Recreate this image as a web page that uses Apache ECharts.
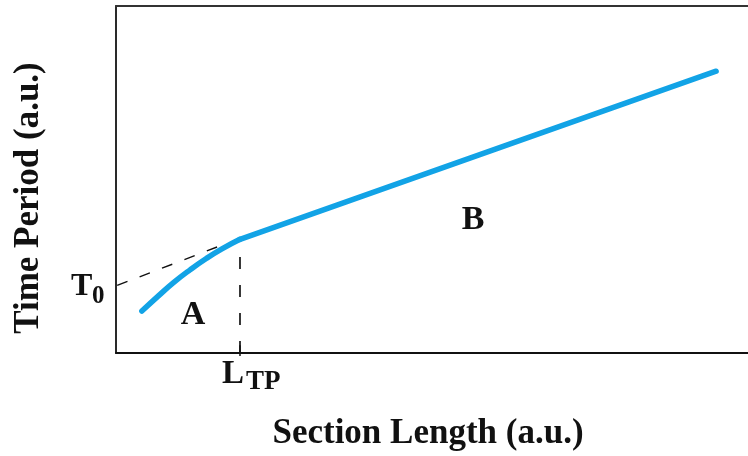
<!DOCTYPE html>
<html>
<head>
<meta charset="utf-8">
<script src="https://cdn.jsdelivr.net/npm/echarts@6/dist/echarts.min.js"></script>
<style>
  html, body { margin: 0; padding: 0; background: #fff; }
  #chart { width: 748px; height: 456px; }
</style>
</head>
<body>
<div id="chart"></div>
<script>
// Section A: curved rise up to the turning point
const regionA = [
  [0.43, 0.70], [0.70, 0.95], [0.96, 1.18], [1.23, 1.39],
  [1.50, 1.58], [1.76, 1.74], [2.06, 1.90]
];
// Section B: linear growth beyond the turning point
const regionB = [[2.06, 1.90], [9.97, 4.71]];
// Extrapolated intercept line towards T0
const interceptLine = [[0.02, 1.13], [1.83, 1.83]];
// Turning-point length L_TP
const turningLength = 2.06;
const turningDrop = [[turningLength, 0], [turningLength, 1.78]];
const turningTick = [[turningLength, -0.05], [turningLength, 0.13]];

const xMax = 10.5, yMax = 5.8;
const serif = '"Liberation Serif", "Times New Roman", serif';
const ink = '#111';
const blue = '#12A3E6';

const chart = echarts.init(document.getElementById('chart'), null, { renderer: 'canvas' });

const label = (text, x, y, size, align) => ({
  type: 'text', x: x, y: y, z: 10,
  style: { text: text, fill: ink, font: 'bold ' + size + 'px ' + serif, align: align || 'left', verticalAlign: 'middle' }
});

const hiddenParts = {
  axisTick: { show: false }, axisLabel: { show: false }, splitLine: { show: false }
};

chart.setOption({
  animation: false,
  backgroundColor: '#fff',
  grid: { left: 116, right: 0, top: 6, bottom: 103 },
  xAxis: [
    Object.assign({
      type: 'value', min: 0, max: xMax, position: 'bottom',
      axisLine: { show: true, onZero: false, lineStyle: { color: '#111', width: 2 } }
    }, hiddenParts),
    Object.assign({
      type: 'value', min: 0, max: xMax, position: 'top',
      axisLine: { show: true, onZero: false, lineStyle: { color: '#333', width: 2 } }
    }, hiddenParts)
  ],
  yAxis: Object.assign({
    type: 'value', min: 0, max: yMax,
    axisLine: { show: true, onZero: false, lineStyle: { color: '#2a2a2a', width: 2 } }
  }, hiddenParts),
  series: [
    {
      type: 'line', data: regionA, smooth: true, showSymbol: false,
      lineStyle: { color: blue, width: 5.5, cap: 'round' }
    },
    {
      type: 'line', data: regionB, showSymbol: false,
      lineStyle: { color: blue, width: 5.5, cap: 'round' }
    },
    {
      type: 'line', data: interceptLine, showSymbol: false, z: 1,
      lineStyle: { color: ink, width: 1.4, type: [11, 13] }
    },
    {
      type: 'line', data: turningDrop, showSymbol: false, z: 1,
      lineStyle: { color: '#222', width: 1.8, type: [12, 16] }
    },
    {
      type: 'line', data: turningTick, showSymbol: false, clip: false,
      lineStyle: { color: ink, width: 1.5 }
    }
  ],
  graphic: [
    label('T', 71, 287, 32),
    label('0', 92, 297, 25),
    label('L', 222, 374, 33),
    label('TP', 246, 382, 27),
    label('A', 193, 315, 34, 'center'),
    label('B', 473, 220, 34, 'center'),
    label('Section Length (a.u.)', 428, 434, 35, 'center'),
    Object.assign(label('Time Period (a.u.)', 29, 198, 35, 'center'), { rotation: Math.PI / 2 })
  ]
});
</script>
</body>
</html>
